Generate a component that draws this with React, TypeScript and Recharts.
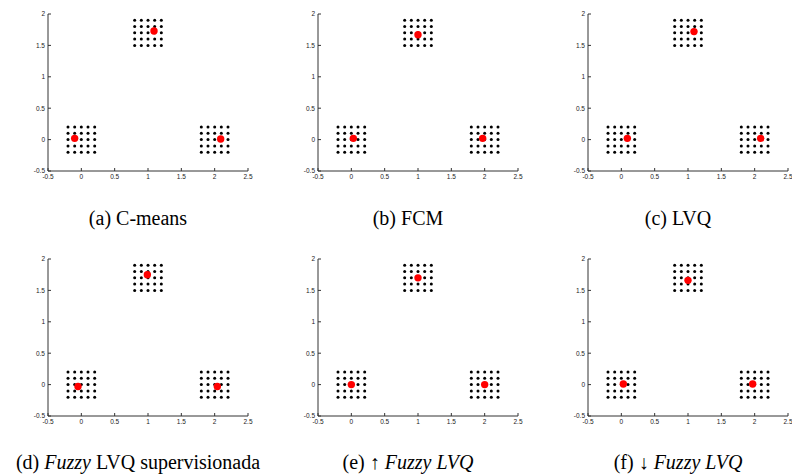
import { Scatter, ScatterChart, XAxis, YAxis } from 'recharts';
import type { ReactNode } from 'react';

// Tick values shared by all six panels
const xTicks = [-0.5, 0, 0.5, 1, 1.5, 2, 2.5];
const yTicks = [-0.5, 0, 0.5, 1, 1.5, 2];

// Data samples: three 5x5 clusters
const clusterXs = [
  [-0.2, -0.1, 0, 0.1, 0.2],
  [0.8, 0.9, 1, 1.1, 1.2],
  [1.8, 1.9, 2, 2.1, 2.2],
];
const clusterYs = [
  [-0.2, -0.1, 0, 0.1, 0.2],
  [1.5, 1.6, 1.7, 1.8, 1.9],
  [-0.2, -0.1, 0, 0.1, 0.2],
];

// Prototypes found by each method
const cMeans = [
  { x: -0.1, y: 0.02 },
  { x: 1.09, y: 1.73 },
  { x: 2.09, y: 0.01 },
];
const fcm = [
  { x: 0.03, y: 0.02 },
  { x: 1.0, y: 1.67 },
  { x: 1.97, y: 0.02 },
];
const lvq = [
  { x: 0.09, y: 0.02 },
  { x: 1.09, y: 1.72 },
  { x: 2.09, y: 0.02 },
];
const fuzzyLvqSup = [
  { x: -0.05, y: -0.03 },
  { x: 0.99, y: 1.75 },
  { x: 2.04, y: -0.03 },
];
const fuzzyLvqUp = [
  { x: 0.0, y: 0.0 },
  { x: 1.0, y: 1.7 },
  { x: 2.0, y: 0.0 },
];
const fuzzyLvqDown = [
  { x: 0.03, y: 0.01 },
  { x: 1.0, y: 1.66 },
  { x: 1.97, y: 0.01 },
];

const samples = clusterXs.flatMap((xs, i) =>
  clusterYs[i].flatMap((y) => xs.map((x) => ({ x, y }))),
);

const PLOT_W = 200;
const PLOT_H = 157;
const Y_AXIS_W = 30;
const TOP = 5;
const X_AXIS_H = 20;
const RIGHT = 6;

const colLeft = [48, 318, 588];
const rowTop = [14, 259];
const captionBase = [225, 469];

const tickStyle = { fill: '#222', fontSize: 6.5, fontFamily: '"Liberation Sans", Arial, sans-serif' };

interface PanelProps {
  left: number;
  top: number;
  centroids: { x: number; y: number }[];
}

function Panel({ left, top, centroids }: PanelProps) {
  return (
    <div style={{ position: 'absolute', left: left - Y_AXIS_W, top: top - TOP }}>
      <ScatterChart
        width={Y_AXIS_W + PLOT_W + RIGHT}
        height={TOP + PLOT_H + X_AXIS_H}
        margin={{ top: TOP, right: RIGHT, left: 0, bottom: 0 }}
      >
        <XAxis
          type="number"
          dataKey="x"
          domain={[-0.5, 2.5]}
          ticks={xTicks}
          interval={0}
          height={X_AXIS_H}
          tickSize={-3}
          tickMargin={6}
          tick={tickStyle}
          stroke="#333"
          tickFormatter={(v) => String(v)}
        />
        <YAxis
          type="number"
          dataKey="y"
          domain={[-0.5, 2]}
          ticks={yTicks}
          interval={0}
          width={Y_AXIS_W}
          tickSize={-3}
          tickMargin={6}
          tick={tickStyle}
          stroke="#333"
          tickFormatter={(v) => String(v)}
        />
        <Scatter
          data={samples}
          isAnimationActive={false}
          shape={(p: any) => <circle cx={p.cx} cy={p.cy} r={1.5} fill="#000" />}
        />
        <Scatter
          data={centroids}
          isAnimationActive={false}
          shape={(p: any) => <circle cx={p.cx} cy={p.cy} r={3.7} fill="#ff0000" />}
        />
      </ScatterChart>
    </div>
  );
}

const panels = [cMeans, fcm, lvq, fuzzyLvqSup, fuzzyLvqUp, fuzzyLvqDown];

const captions: ReactNode[] = [
  <>(a) C-means</>,
  <>(b) FCM</>,
  <>(c) LVQ</>,
  <>(d) <i>Fuzzy</i> LVQ supervisionada</>,
  <>(e) ↑ <i>Fuzzy LVQ</i></>,
  <>(f) ↓ <i>Fuzzy LVQ</i></>,
];

export default function App() {
  return (
    <div
      style={{
        position: 'absolute',
        left: 0,
        top: 0,
        width: 792,
        height: 474,
        overflow: 'hidden',
        background: '#fff',
      }}
    >
      {panels.map((c, i) => (
        <Panel key={i} left={colLeft[i % 3]} top={rowTop[Math.floor(i / 3)]} centroids={c} />
      ))}
      {captions.map((cap, i) => (
        <div
          key={`cap${i}`}
          style={{
            position: 'absolute',
            left: colLeft[i % 3] + 90 - 160,
            top: captionBase[Math.floor(i / 3)] - 17,
            width: 320,
            textAlign: 'center',
            fontFamily: '"Liberation Serif", "Times New Roman", serif',
            fontSize: 20,
            lineHeight: '20px',
            whiteSpace: 'pre',
            color: '#000',
          }}
        >
          {cap}
        </div>
      ))}
    </div>
  );
}
